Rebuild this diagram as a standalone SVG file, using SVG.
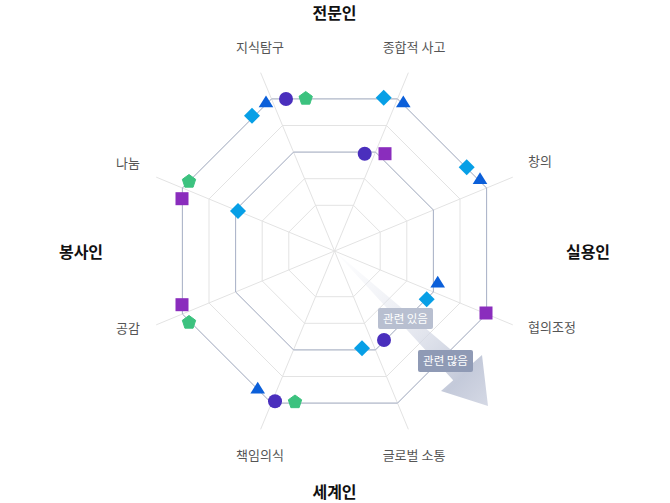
<svg xmlns="http://www.w3.org/2000/svg" width="670" height="503" viewBox="0 0 670 503">
  <style>
    .grid { fill: none; stroke: #e3e3e3; stroke-width: 1; }
    .data { fill: none; stroke: #a9b2c8; stroke-width: 1; }
    .lbl { font-family: "Noto Sans CJK KR", "Noto Sans", sans-serif; font-size: 13px; fill: #555555; }
    .big { font-family: "Noto Sans CJK KR", "Noto Sans", sans-serif; font-size: 16px; font-weight: 700; fill: #111111; text-anchor: middle; }
    .tag { font-family: "Noto Sans CJK KR", "Noto Sans", sans-serif; font-size: 11.5px; fill: #ffffff; text-anchor: middle; }
    .m-circle { fill: #4a2fbd; }
    .m-pent { fill: #3cc27f; stroke: #3cc27f; stroke-width: 1; stroke-linejoin: round; }
    .m-tri { fill: #0b5fd9; }
    .m-dia { fill: #079fe6; }
    .m-sq { fill: #8a2dbd; }
  </style>
  <defs>
    <linearGradient id="arrowGrad" gradientUnits="userSpaceOnUse" x1="334.5" y1="251" x2="488" y2="406">
      <stop offset="0" stop-color="#eef0f6" stop-opacity="0.1"/>
      <stop offset="0.55" stop-color="#d6dae6" stop-opacity="0.7"/>
      <stop offset="0.82" stop-color="#c4cada" stop-opacity="1"/>
      <stop offset="1" stop-color="#d5d9e5" stop-opacity="1"/>
    </linearGradient>
    <circle id="mCircle" class="m-circle" r="7"/>
    <polygon id="mPent" class="m-pent" points="0,-7,6.66,-2.16,4.11,5.66,-4.11,5.66,-6.66,-2.16"/>
    <polygon id="mTri" class="m-tri" points="0,-6,7.3,5.8,-7.3,5.8"/>
    <polygon id="mDia" class="m-dia" points="0,-8,8,0,0,8,-8,0"/>
    <rect id="mSq" class="m-sq" x="-6.5" y="-6.5" width="13" height="13"/>
  </defs>

  <g id="grid">
    <polygon class="grid" points="315.57,205.3 353.43,205.3 380.2,232.07 380.2,269.93 353.43,296.7 315.57,296.7 288.8,269.93 288.8,232.07"/>
    <polygon class="grid" points="304.55,178.7 364.45,178.7 406.8,221.05 406.8,280.95 364.45,323.3 304.55,323.3 262.2,280.95 262.2,221.05"/>
    <polygon class="grid" points="293.53,152.1 375.47,152.1 433.4,210.03 433.4,291.97 375.47,349.9 293.53,349.9 235.6,291.97 235.6,210.03"/>
    <polygon class="grid" points="282.52,125.5 386.48,125.5 460,199.02 460,302.98 386.48,376.5 282.52,376.5 209,302.98 209,199.02"/>
    <polygon class="grid" points="271.5,98.9 397.5,98.9 486.6,188 486.6,314 397.5,403.1 271.5,403.1 182.4,314 182.4,188"/>
    <line class="grid" x1="334.5" y1="251" x2="260.64" y2="72.69"/>
    <line class="grid" x1="334.5" y1="251" x2="408.36" y2="72.69"/>
    <line class="grid" x1="334.5" y1="251" x2="512.81" y2="177.14"/>
    <line class="grid" x1="334.5" y1="251" x2="512.81" y2="324.86"/>
    <line class="grid" x1="334.5" y1="251" x2="408.36" y2="429.31"/>
    <line class="grid" x1="334.5" y1="251" x2="260.64" y2="429.31"/>
    <line class="grid" x1="334.5" y1="251" x2="156.19" y2="324.86"/>
    <line class="grid" x1="334.5" y1="251" x2="156.19" y2="177.14"/>
  </g>

  <g id="arrow">
    <path d="M334.5,251 L469.8,365.8 L482,355 L488,406 L441,391 L453.2,380.3 Z" fill="url(#arrowGrad)"/>
  </g>

  <g id="connectors">
    <polygon class="data" points="293.53,152.1 375.47,152.1 433.4,210.03 433.4,291.97 375.47,349.9 293.53,349.9 235.6,291.97 235.6,210.03"/>
    <polygon class="data" points="271.5,98.9 397.5,98.9 486.6,188 486.6,314 397.5,403.1 271.5,403.1 182.4,314 182.4,188"/>
  </g>

  <g id="markers">
    <use href="#mTri" x="266" y="101.5"/>
    <use href="#mCircle" x="286" y="99"/>
    <use href="#mPent" x="305.7" y="98.5"/>
    <use href="#mDia" x="252" y="115.7"/>
    <use href="#mPent" x="189" y="181.5"/>
    <use href="#mSq" x="182" y="198.7"/>
    <use href="#mDia" x="238" y="211"/>
    <use href="#mDia" x="383.7" y="97.7"/>
    <use href="#mTri" x="403.3" y="101.5"/>
    <use href="#mDia" x="466.7" y="167.3"/>
    <use href="#mTri" x="480" y="178.3"/>
    <use href="#mCircle" x="364.7" y="153.7"/>
    <use href="#mSq" x="385" y="153.7"/>
    <use href="#mSq" x="182" y="304.7"/>
    <use href="#mPent" x="189" y="322.5"/>
    <use href="#mTri" x="257.7" y="387.7"/>
    <use href="#mCircle" x="275" y="401.3"/>
    <use href="#mPent" x="295" y="402"/>
    <use href="#mTri" x="437.7" y="281.7"/>
    <use href="#mDia" x="426.7" y="299.3"/>
    <use href="#mSq" x="486" y="313"/>
    <use href="#mCircle" x="384" y="340"/>
    <use href="#mDia" x="362" y="348.3"/>
  </g>

  <g id="tag-related">
    <rect x="378" y="308" width="55" height="21" rx="2" fill="#b8bfd0"/>
    <text class="tag" x="405.5" y="322.7">관련 있음</text>
  </g>
  <g id="tag-highly-related">
    <rect x="418" y="350" width="55" height="22" rx="2" fill="#8f9ab5"/>
    <text class="tag" x="445.5" y="365.2">관련 많음</text>
  </g>

  <g id="axis-labels">
    <text class="lbl" x="260" y="51.7" text-anchor="middle">지식탐구</text>
    <text class="lbl" x="414" y="51.7" text-anchor="middle">종합적 사고</text>
    <text class="lbl" x="528" y="166.4" text-anchor="start">창의</text>
    <text class="lbl" x="528" y="332.4" text-anchor="start">협의조정</text>
    <text class="lbl" x="414" y="459.7" text-anchor="middle">글로벌 소통</text>
    <text class="lbl" x="260" y="459.7" text-anchor="middle">책임의식</text>
    <text class="lbl" x="140" y="333" text-anchor="end">공감</text>
    <text class="lbl" x="140" y="168.2" text-anchor="end">나눔</text>
  </g>

  <g id="group-labels">
    <text class="big" x="334.5" y="18.7">전문인</text>
    <text class="big" x="588" y="257.8">실용인</text>
    <text class="big" x="334.5" y="497.5">세계인</text>
    <text class="big" x="81" y="257.8">봉사인</text>
  </g>
</svg>
